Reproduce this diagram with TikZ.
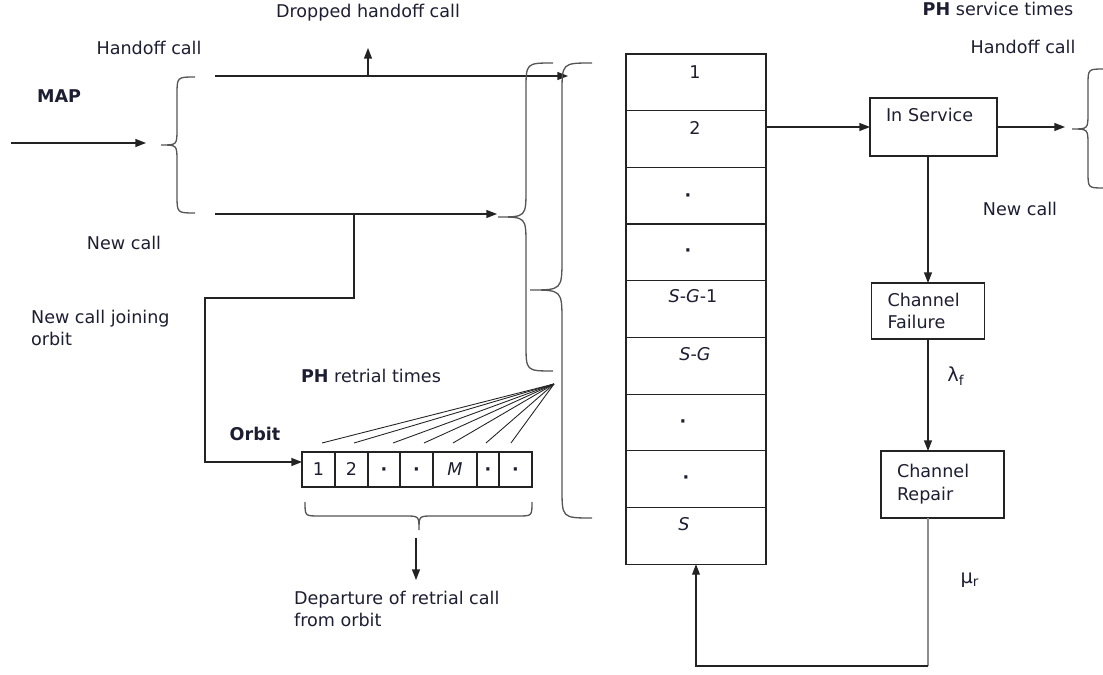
\documentclass[tikz,border=0pt]{standalone}
\usepackage{fontspec}
\setmainfont{DejaVu Sans}
\usetikzlibrary{positioning,arrows.meta,calc}
\definecolor{linecol}{RGB}{35,35,35}
\definecolor{bracecol}{RGB}{85,85,85}
\definecolor{repcol}{RGB}{140,140,140}
\definecolor{txtcol}{RGB}{30,30,50}

% left-pointing brace: tip x, stem x, end x, top y, bottom y, tip y
\newcommand{\openbrace}[6]{%
  \draw[brc] (#3,#4) .. controls (#2,#4) .. (#2,{#4+#3-#2})
    -- (#2,{#6-#2+#1}) .. controls (#2,#6) .. (#1,#6)
    .. controls (#2,#6) .. (#2,{#6+#2-#1})
    -- (#2,{#5-#3+#2}) .. controls (#2,#5) .. (#3,#5);}

\tikzset{
  conn/.style={draw=linecol, line width=0.7pt},
  arr/.style={conn, -{Triangle[length=6pt,width=4.5pt]}},
  brc/.style={draw=bracecol, line width=0.75pt},
  txt/.style={text=txtcol, font=\fontsize{10}{13}\selectfont, inner sep=1pt},
  celltxt/.style={txt, text height=7pt, text depth=0pt},
  cell/.style={celltxt, draw=linecol, line width=0.7pt, inner sep=0pt, outer sep=0pt},
  qcell/.style={cell, minimum width=2.8cm, minimum height=1.134cm},
  ocell/.style={cell, minimum height=0.7cm},
  proc/.style={txt, draw=linecol, line width=0.7pt, align=left, inner xsep=0.32cm, outer sep=0pt},
}

\begin{document}
\begin{tikzpicture}[x=0.02cm,y=-0.02cm]

\useasboundingbox (0,0) rectangle (1103,675);

% Labels
\node[txt] (dropped) at (368,13) {Dropped handoff call};
\node[txt] (hoL) at (149,48) {Handoff call};
\node[txt, font=\fontsize{10}{13}\selectfont\bfseries] (map) at (59,96) {MAP};
\node[txt] (ncL) at (124,243) {New call};
\node[txt, align=left, anchor=west] (join) at (29,328) {New call joining\\orbit};
\node[txt] (phr) at (371,376) {\textbf{PH} retrial times};
\node[txt, font=\fontsize{10}{13}\selectfont\bfseries] (orbitlbl) at (255,434) {Orbit};
\node[txt, align=left, anchor=west] (dep) at (292,609) {Departure of retrial call\\from orbit};
\node[txt] (phs) at (998,9) {\textbf{PH} service times};
\node[txt] (hoR) at (1023,47) {Handoff call};
\node[txt] (ncR) at (1020,209) {New call};
\node[txt, font=\fontsize{11}{13}\selectfont] (lam) at (956,376) {λ\textsubscript{f}};
\node[txt, font=\fontsize{11}{13}\selectfont] (mu) at (970,580) {μ\textsubscript{r}};

% Channel queue
\node[qcell, anchor=north] (q1) at (696,54) {};
\foreach \i [evaluate=\i as \j using int(\i-1)] in {2,...,9}
  \node[qcell, below=0pt of q\j] (q\i) {};
\foreach \i/\t/\dx/\dy in {1/1/-1/18, 2/2/-1/18, 3/\textbf{·}/-8/28, 4/\textbf{·}/-8/26,
    5/\textit{S}-\textit{G}-1/-3/16, 6/\textit{S}-\textit{G}/-1/17,
    7/\textbf{·}/-13/27, 8/\textbf{·}/-10/27, 9/\textit{S}/-12/17}
  \node[celltxt] (t\i) at ($(q\i.north)+(\dx,\dy)$) {\t};

% Orbit
\node[ocell, minimum width=0.66cm] (o1) at (318.5,469.5) {1};
\foreach \i/\w/\t [evaluate=\i as \j using int(\i-1)] in {2/0.66/2, 3/0.64/\textbf{·},
    4/0.66/\textbf{·}, 5/0.88/\textit{M}, 6/0.44/\textbf{·}, 7/0.66/\textbf{·}}
  \node[ocell, minimum width=\w cm, right=0pt of o\j] (o\i) {\t};

% Service and channel boxes
\node[proc, text width=1.90cm, minimum height=1.16cm, text depth=14pt] (svc) at (933.5,127) {In Service};
\node[proc, text width=1.62cm, minimum height=1.12cm] (fail) at (928,311) {Channel\\Failure};
\node[proc, text width=1.82cm, minimum height=1.34cm] (rep) at (942.5,484.5) {Channel\\Repair};

% Coordinates
\coordinate (in0) at (11,143);
\coordinate (in1) at (146,143);
\coordinate (h0) at (215,76);
\coordinate (h1) at (568,76);
\coordinate (dj) at (368,76);
\coordinate (dropend) at (368,48);
\coordinate (n0) at (215,214);
\coordinate (n1) at (497,214);
\coordinate (nj) at (354,214);
\coordinate (bend) at (205,298);
\coordinate (oin) at (205,462);
\coordinate (rbin) at (1065,129);
\coordinate (fan) at (554,384);
\coordinate (obtip) at (416,538);
\coordinate (depend) at (416,580);
\coordinate (rb) at (928,666);

% Arrows
\draw[arr] (in0) -- (in1);
\draw[arr] (h0) -- (h1);
\draw[arr] (dj) -- (dropend);
\draw[arr] (n0) -- (n1);
\draw[arr] (nj) |- (bend) -- (oin) -- (oin -| o1.west);
\draw[arr] (svc.west -| q2.east) -- (svc.west);
\draw[arr] (svc.east) -- (svc.east -| rbin);
\draw[arr] (fail.north |- svc.south) -- (fail.north);
\draw[arr] (fail.south) -- (fail.south |- rep.north);
\draw[conn, draw=repcol] (rep.south -| fail.south) -- (rb);
\draw[arr] (rb) -| (q9.south);
\draw[arr] (obtip) -- (depend);

% Retrial fan
\foreach \i/\dx in {1/3.5, 2/2.5, 3/9, 4/7.5, 5/-2, 6/-2, 7/-4.5}
  \draw[conn, line width=0.5pt] (fan) -- ($(o\i.north)+(\dx,-9)$);

% Braces
\openbrace{161}{177}{195}{77}{213}{145}
\openbrace{498}{526}{553}{63}{371}{217}
\openbrace{530}{562}{592}{63}{518}{290}
\openbrace{1072}{1088}{1104}{69}{188}{129}
\draw[brc] (305,502) .. controls (305,516) .. (319,516) -- (405,516)
  .. controls (419,516) .. (419,530) .. controls (419,516) .. (433,516)
  -- (518,516) .. controls (532,516) .. (532,502);

\end{tikzpicture}
\end{document}
